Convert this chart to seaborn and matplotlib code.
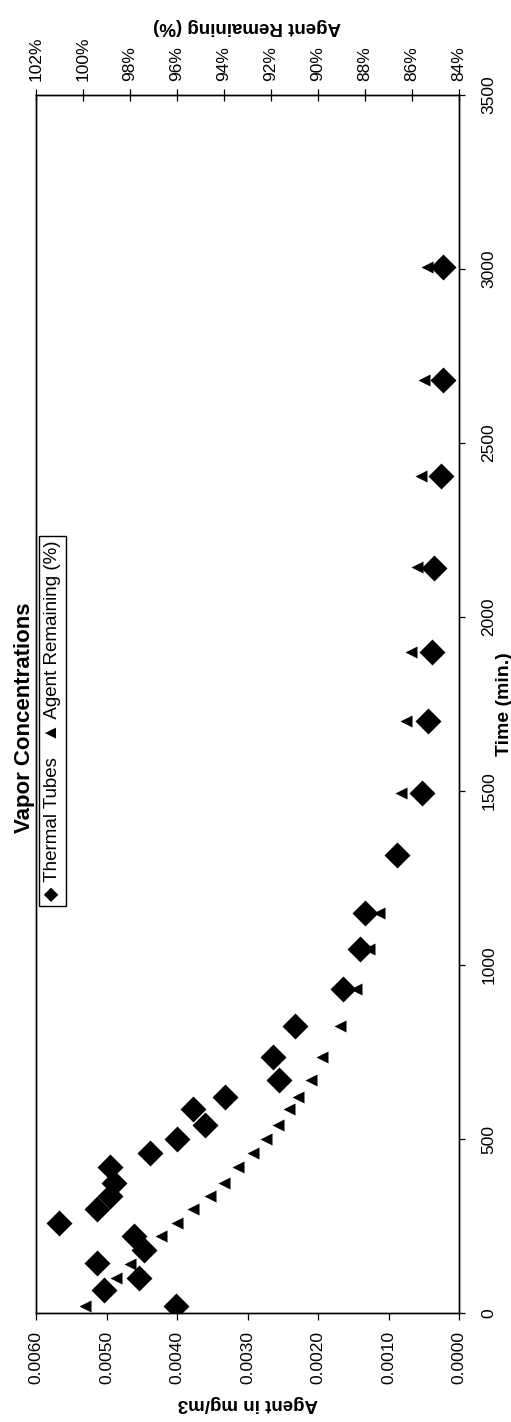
import numpy as np
import matplotlib
matplotlib.use("Agg")
import matplotlib.pyplot as plt
import seaborn as sns
from matplotlib.ticker import FuncFormatter

# ---- data ----
tube_time = [20, 65, 100, 145, 180, 220, 260, 300, 335, 375, 420, 460, 500, 540,
             585, 620, 670, 735, 825, 930, 1045, 1150, 1315, 1495, 1700, 1900,
             2140, 2405, 2680, 3005]
tube_conc = [0.00401, 0.00503, 0.00454, 0.00513, 0.00447, 0.00461, 0.00567,
             0.00514, 0.00495, 0.00490, 0.00495, 0.00438, 0.00400, 0.00360,
             0.00378, 0.00332, 0.00256, 0.00264, 0.00232, 0.00164, 0.00140,
             0.00133, 0.00088, 0.00053, 0.00044, 0.00039, 0.00036, 0.00025,
             0.00022, 0.00022]
rem_time = [20, 100, 140, 220, 260, 300, 335, 375, 420, 460, 500, 540, 585, 620,
            670, 735, 825, 930, 1045, 1150, 1495, 1700, 1900, 2145, 2405, 2680, 3005]
rem_pct = [99.9, 98.6, 98.0, 96.7, 96.0, 95.3, 94.6, 94.0, 93.4, 92.75, 92.2,
           91.7, 91.25, 90.85, 90.3, 89.85, 89.05, 88.4, 87.85, 87.4, 86.45,
           86.25, 86.05, 85.8, 85.6, 85.5, 85.35]
conc_ticks = [0.0, 0.001, 0.002, 0.003, 0.004, 0.005, 0.006]
pct_ticks = [84, 86, 88, 90, 92, 94, 96, 98, 100, 102]
time_ticks = [0, 500, 1000, 1500, 2000, 2500, 3000, 3500]

title = "Vapor Concentrations"
legend_text = "\u25C6 Thermal Tubes   \u25B2 Agent Remaining (%)"

sns.set_style("white")
plt.rcParams["font.family"] = ["Liberation Sans", "DejaVu Sans"]
plt.rcParams["text.color"] = "black"
plt.rcParams["axes.labelcolor"] = "black"

W, H = 511, 1422
fig = plt.figure(figsize=(W / 100, H / 100), dpi=100)
ax = fig.add_axes([36 / W, (H - 1313) / H, 423 / W, 1218 / H])

sns.scatterplot(x=tube_conc, y=tube_time, marker="D", color="black", s=175,
                linewidth=0, ax=ax, legend=False, zorder=3)
ax.set_xlim(0.006, 0.0)
ax.set_ylim(0, 3500)
ax.set_xticks(conc_ticks)
ax.xaxis.set_major_formatter(FuncFormatter(lambda v, p: f"{v:.4f}"))
ax.tick_params(axis="x", direction="out", length=5, width=0.9, pad=8,
               labelsize=12.5, rotation=90, colors="black")
ax.yaxis.tick_right()
ax.set_yticks(time_ticks)
ax.tick_params(axis="y", direction="out", length=4, width=0.9, pad=12,
               labelsize=12.5, colors="black")
for lab in ax.get_yticklabels():
    lab.set_rotation(90)
    lab.set_va("center")
ax.set_xlabel("Agent in mg/m3", fontsize=13.5, fontweight="bold",
              rotation=180, labelpad=8)
ax.yaxis.set_label_position("right")
ax.set_ylabel("Time (min.)", fontsize=14, fontweight="bold", rotation=90,
              labelpad=0)
for sp in ax.spines.values():
    sp.set_color("black")
    sp.set_linewidth(1.0)

ax2 = ax.twiny()
sns.scatterplot(x=rem_pct, y=rem_time, marker="<", color="black", s=75,
                linewidth=0, ax=ax2, legend=False, zorder=3)
ax2.set_xlim(102, 84)
ax2.set_ylim(0, 3500)
ax2.set_xticks(pct_ticks)
ax2.xaxis.set_major_formatter(FuncFormatter(lambda v, p: f"{int(round(v))}%"))
ax2.tick_params(axis="x", direction="inout", length=8, width=0.9, pad=6,
                labelsize=12.5, rotation=90, colors="black")
ax2.set_xlabel("Agent Remaining (%)", fontsize=13.5, fontweight="bold",
               rotation=180, labelpad=4)
for sp in ax2.spines.values():
    sp.set_color("black")
    sp.set_linewidth(1.0)

ax.text(-0.028, 0.4885, title, transform=ax.transAxes, rotation=90,
        ha="center", va="center", fontsize=16, fontweight="bold")
ax.text(0.039, 0.486, legend_text, transform=ax.transAxes, rotation=90,
        ha="center", va="center", fontsize=13.5, zorder=5,
        bbox=dict(boxstyle="square,pad=0.25", fc="white", ec="black", lw=1.0))

fig.savefig("out.png", dpi=100, facecolor="white")
